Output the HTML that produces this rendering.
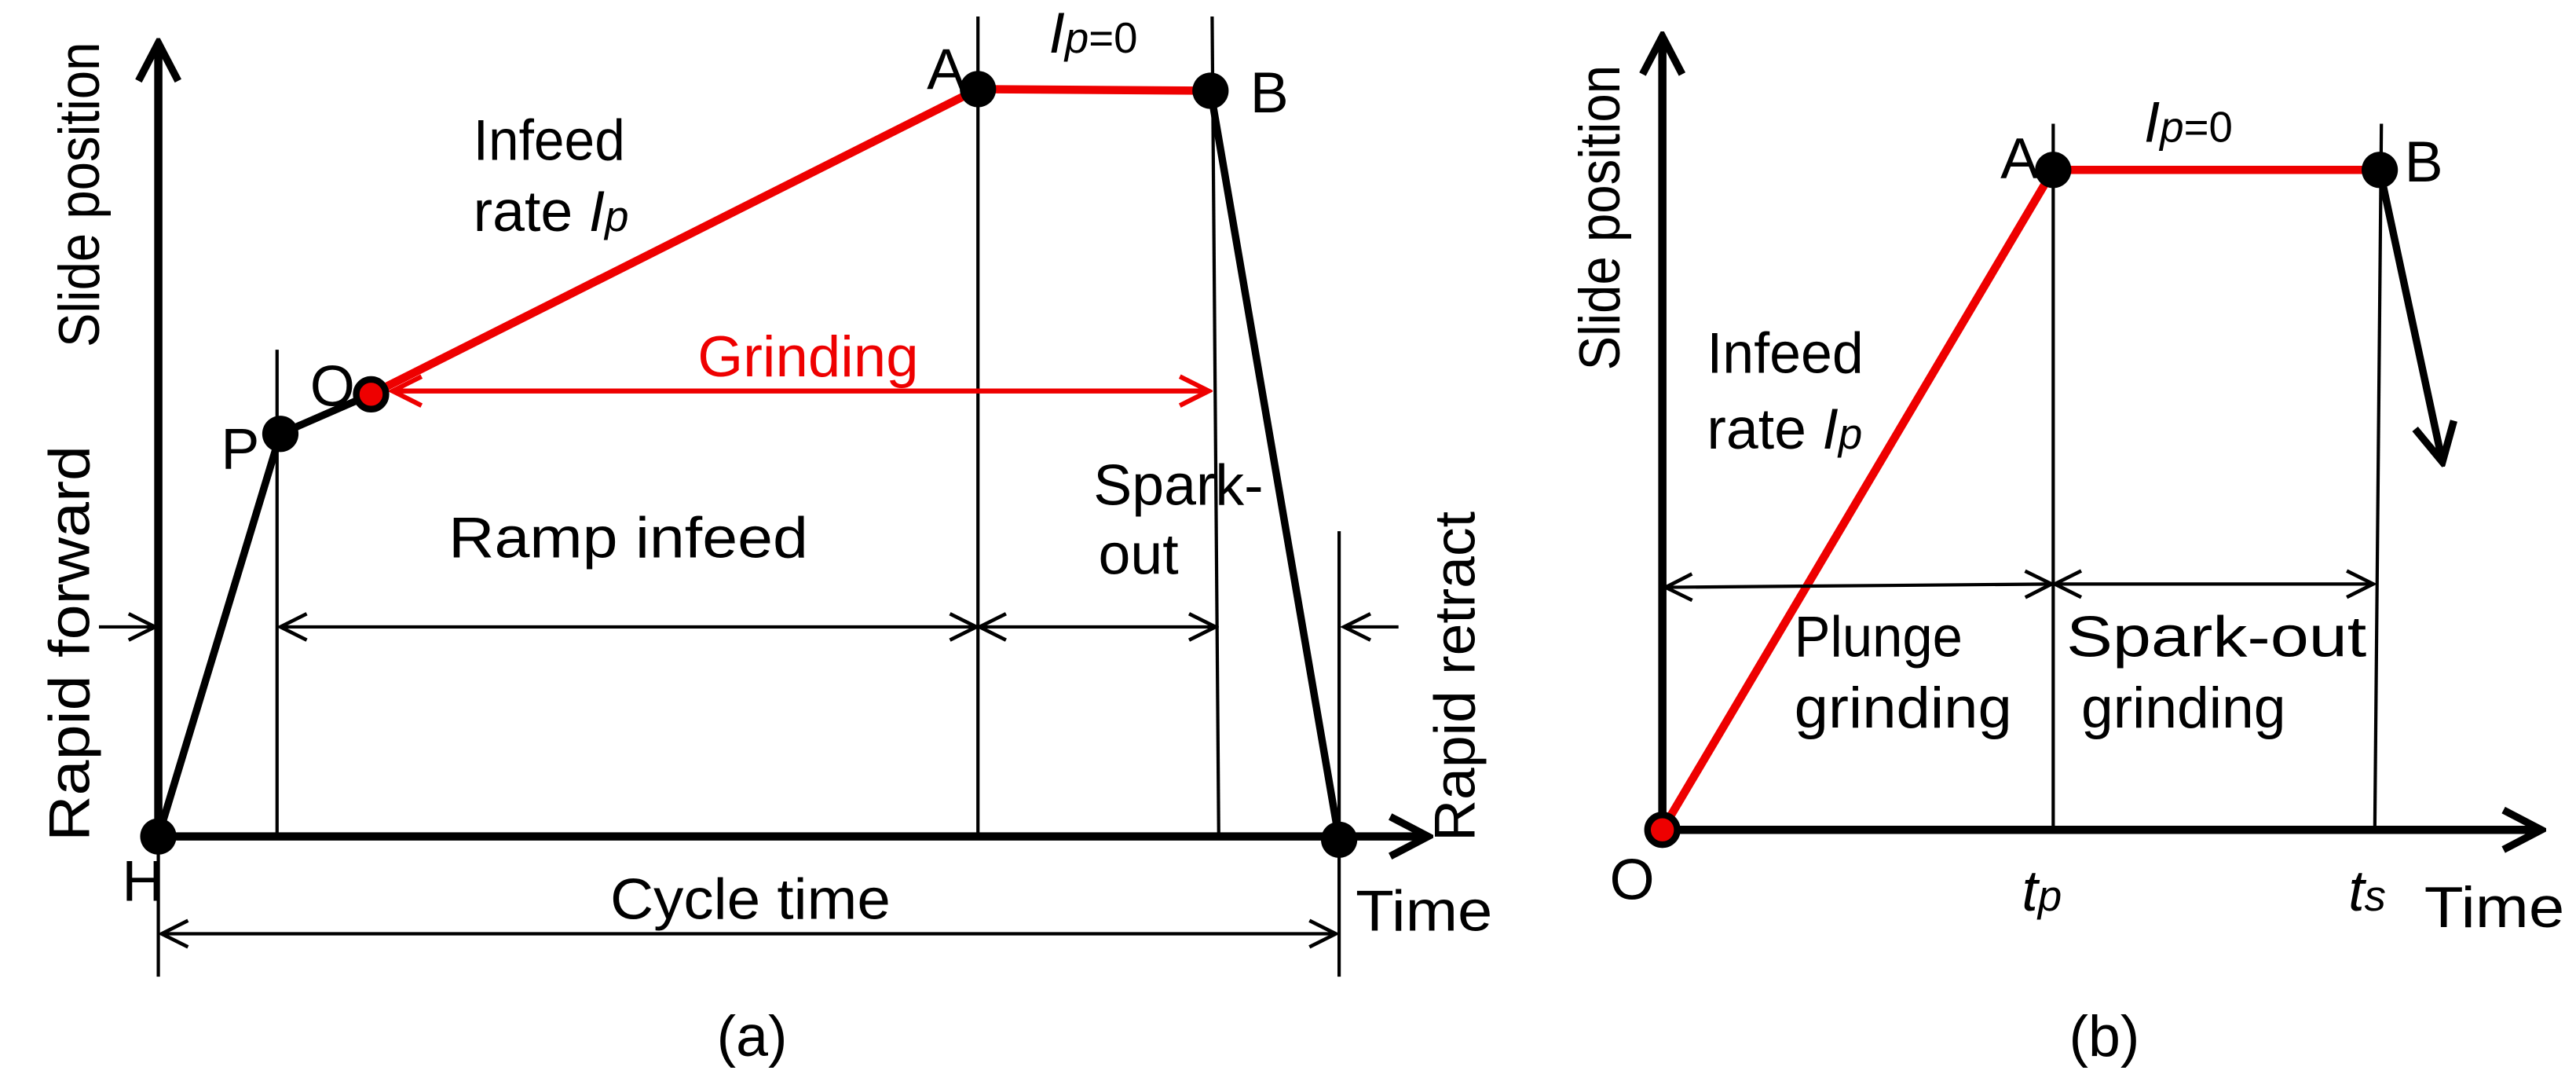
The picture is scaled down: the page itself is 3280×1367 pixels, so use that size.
<!DOCTYPE html>
<html><head><meta charset="utf-8"><style>
html,body{margin:0;padding:0;background:#fff;}
svg{display:block}
text{font-family:"Liberation Sans",sans-serif;font-size:35px;fill:#000}
</style></head><body>
<svg width="3280" height="1367" viewBox="0 0 1562 651" xmlns="http://www.w3.org/2000/svg" preserveAspectRatio="none">
<defs>
<marker id="ah" viewBox="0 0 20 20" refX="18" refY="10" markerWidth="20" markerHeight="20" markerUnits="userSpaceOnUse" orient="auto-start-reverse">
<path d="M2,2 L18,10 L2,18" fill="none" stroke="#000" stroke-width="2.2"/></marker>
<marker id="ahr" viewBox="0 0 20 20" refX="18" refY="10" markerWidth="22" markerHeight="22" markerUnits="userSpaceOnUse" orient="auto-start-reverse">
<path d="M2,2 L18,10 L2,18" fill="none" stroke="#e00" stroke-width="2.6"/></marker>
<marker id="big" viewBox="0 0 30 30" refX="27" refY="15" markerWidth="30" markerHeight="30" markerUnits="userSpaceOnUse" orient="auto">
<path d="M4,3 L27,15 L4,27" fill="none" stroke="#000" stroke-width="4.5"/></marker>
</defs>

<!-- Panel a -->
<line x1="96" y1="507" x2="96" y2="26" stroke="#000" stroke-width="5" marker-end="url(#big)"/>
<line x1="96" y1="507" x2="866" y2="507" stroke="#000" stroke-width="5" marker-end="url(#big)"/>
<g stroke="#000" stroke-width="2">
<line x1="96" y1="507" x2="96" y2="592"/>
<line x1="168" y1="212" x2="168" y2="507"/>
<line x1="593" y1="10" x2="593" y2="507"/>
<line x1="735" y1="10" x2="739" y2="507"/>
<line x1="812" y1="322" x2="812" y2="592"/>
</g>
<polyline points="96,507 170,263 225,239" fill="none" stroke="#000" stroke-width="4.5"/>
<line x1="734" y1="55" x2="812" y2="509" stroke="#000" stroke-width="4.5"/>
<line x1="225" y1="239" x2="593" y2="54" stroke="#e00" stroke-width="5"/>
<line x1="593" y1="54" x2="734" y2="55" stroke="#e00" stroke-width="5"/>
<g stroke="#000" stroke-width="2" fill="none">
<line x1="170" y1="380" x2="592" y2="380" marker-start="url(#ah)" marker-end="url(#ah)"/>
<line x1="594" y1="380" x2="737" y2="380" marker-start="url(#ah)" marker-end="url(#ah)"/>
<line x1="60" y1="380" x2="94" y2="380" marker-end="url(#ah)"/>
<line x1="848" y1="380" x2="815" y2="380" marker-end="url(#ah)"/>
<line x1="98" y1="566" x2="810" y2="566" marker-start="url(#ah)" marker-end="url(#ah)"/>
</g>
<line x1="238" y1="237" x2="733" y2="237" stroke="#e00" stroke-width="3" marker-start="url(#ahr)" marker-end="url(#ahr)"/>
<circle cx="96" cy="507" r="11"/>
<circle cx="170" cy="263" r="11"/>
<circle cx="593" cy="54" r="11"/>
<circle cx="734" cy="55" r="11"/>
<circle cx="812" cy="509" r="11"/>
<circle cx="225" cy="239" r="9" fill="#e00" stroke="#000" stroke-width="4"/>

<text transform="translate(60,118) rotate(-90)" text-anchor="middle" textLength="185" lengthAdjust="spacingAndGlyphs">Slide position</text>
<text transform="translate(54,390) rotate(-90)" text-anchor="middle" textLength="240" lengthAdjust="spacingAndGlyphs">Rapid forward</text>
<text transform="translate(894,410) rotate(-90)" text-anchor="middle" textLength="200" lengthAdjust="spacingAndGlyphs">Rapid retract</text>
<text x="287" y="97" textLength="92" lengthAdjust="spacingAndGlyphs">Infeed</text>
<text x="287" y="140">rate <tspan font-style="italic">I</tspan><tspan font-style="italic" font-size="26">p</tspan></text>
<text x="636" y="32"><tspan font-style="italic">I</tspan><tspan font-style="italic" font-size="26">p</tspan><tspan font-size="26">=0</tspan></text>
<text x="562" y="54">A</text>
<text x="758" y="68">B</text>
<text x="188" y="246">O</text>
<text x="134" y="284">P</text>
<text x="74" y="546">H</text>
<text x="490" y="228" text-anchor="middle" style="fill:#e00" textLength="134" lengthAdjust="spacingAndGlyphs">Grinding</text>
<text x="381" y="338" text-anchor="middle" textLength="218" lengthAdjust="spacingAndGlyphs">Ramp infeed</text>
<text x="663" y="306" font-size="31">Spark-</text>
<text x="666" y="348">out</text>
<text x="455" y="557" text-anchor="middle" textLength="170" lengthAdjust="spacingAndGlyphs">Cycle time</text>
<text x="822" y="564" textLength="83" lengthAdjust="spacingAndGlyphs">Time</text>
<text x="456" y="640" text-anchor="middle">(a)</text>

<!-- Panel b -->
<line x1="1008" y1="503" x2="1008" y2="22" stroke="#000" stroke-width="5" marker-end="url(#big)"/>
<line x1="1008" y1="503" x2="1541" y2="503" stroke="#000" stroke-width="5" marker-end="url(#big)"/>
<g stroke="#000" stroke-width="2">
<line x1="1245" y1="75" x2="1245" y2="503"/>
<line x1="1444" y1="75" x2="1440" y2="503"/>
</g>
<line x1="1008" y1="503" x2="1245" y2="103" stroke="#e00" stroke-width="5"/>
<line x1="1245" y1="103" x2="1443" y2="103" stroke="#e00" stroke-width="5"/>
<line x1="1443" y1="103" x2="1481" y2="280" stroke="#000" stroke-width="4.5" marker-end="url(#big)"/>
<g stroke="#000" stroke-width="2" fill="none">
<line x1="1010" y1="356" x2="1244" y2="354" marker-start="url(#ah)" marker-end="url(#ah)"/>
<line x1="1246" y1="354" x2="1439" y2="354" marker-start="url(#ah)" marker-end="url(#ah)"/>
</g>
<circle cx="1245" cy="103" r="11"/>
<circle cx="1443" cy="103" r="11"/>
<circle cx="1008" cy="503" r="9" fill="#e00" stroke="#000" stroke-width="4"/>
<text transform="translate(982,132) rotate(-90)" text-anchor="middle" textLength="185" lengthAdjust="spacingAndGlyphs">Slide position</text>
<text x="1035" y="226" textLength="95" lengthAdjust="spacingAndGlyphs">Infeed</text>
<text x="1035" y="272">rate <tspan font-style="italic">I</tspan><tspan font-style="italic" font-size="26">p</tspan></text>
<text x="1213" y="108">A</text>
<text x="1458" y="110">B</text>
<text x="1300" y="86"><tspan font-style="italic">I</tspan><tspan font-style="italic" font-size="26">p</tspan><tspan font-size="26">=0</tspan></text>
<text x="1088" y="398" textLength="102" lengthAdjust="spacingAndGlyphs">Plunge</text>
<text x="1088" y="441" textLength="132" lengthAdjust="spacingAndGlyphs">grinding</text>
<text x="1253" y="398" textLength="182" lengthAdjust="spacingAndGlyphs">Spark-out</text>
<text x="1262" y="441" textLength="124" lengthAdjust="spacingAndGlyphs">grinding</text>
<text x="976" y="545">O</text>
<text x="1226" y="552" font-style="italic">t<tspan font-size="26">p</tspan></text>
<text x="1424" y="552" font-style="italic">t<tspan font-size="26">s</tspan></text>
<text x="1470" y="562" textLength="85" lengthAdjust="spacingAndGlyphs">Time</text>
<text x="1276" y="640" text-anchor="middle">(b)</text>
</svg>
</body></html>
